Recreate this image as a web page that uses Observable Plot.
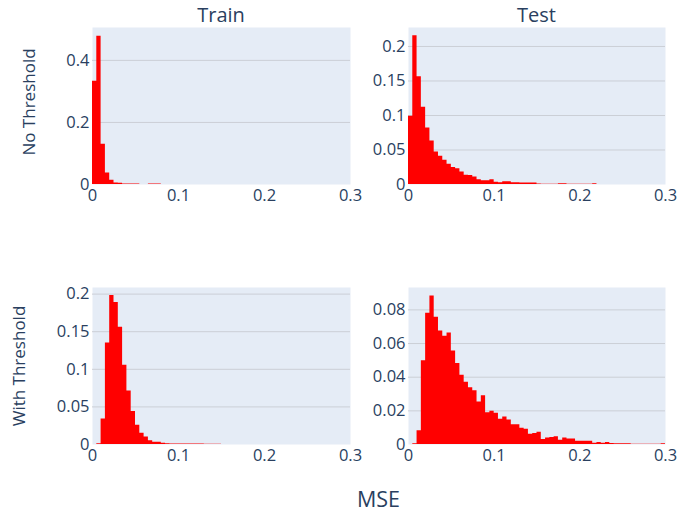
<!DOCTYPE html>
<html>
<head>
<meta charset="utf-8">
<script src="https://cdn.jsdelivr.net/npm/d3@7"></script>
<script src="https://cdn.jsdelivr.net/npm/@observablehq/plot@0.6"></script>
<style>
  html, body { margin: 0; padding: 0; background: #ffffff; }
  #chart { position: relative; width: 678px; height: 515px; overflow: hidden; }
  #chart svg { position: absolute; left: 0; top: 0; }
</style>
</head>
<body>
<div id="chart"></div>
<script>
// ---- data (probability per 0.005-wide MSE bin, bins start at 0) ----
const binWidth = 0.005;
const trainNoThreshold = [0.333, 0.478, 0.130, 0.037, 0.014, 0.005, 0.004, 0.002, 0.002, 0.002, 0.002, 0.0003, 0.0003, 0.0015, 0.0015, 0.0015];
const testNoThreshold = [0.099, 0.2155, 0.156, 0.112, 0.082, 0.063, 0.047, 0.041, 0.035, 0.0295,
  0.0246, 0.0227, 0.018, 0.0135, 0.013, 0.011, 0.0068, 0.0053, 0.0053, 0.0068,
  0.0034, 0.0024, 0.004, 0.004, 0.0024, 0.0024, 0.002, 0.002, 0.002, 0.002,
  0.0009, 0.0003, 0.0003, 0.0003, 0.0003, 0.0012, 0.0012, 0.0003, 0.0003, 0.0003,
  0.0003, 0.0003, 0.0003, 0.0012];
const trainWithThreshold = [0, 0.001, 0.034, 0.135, 0.198, 0.189, 0.156, 0.1055, 0.071, 0.044,
  0.0257, 0.015, 0.010, 0.0049, 0.0031, 0.0031, 0.0018, 0.0009, 0.0007, 0.0007,
  0.0007, 0.0007, 0.0007, 0.0007, 0.0007, 0.0007, 0.0004, 0.0002, 0.0004, 0.0004];
const testWithThreshold = [0, 0.0004, 0.0081, 0.0497, 0.078, 0.0883, 0.0756, 0.0675, 0.0644, 0.0663,
  0.0556, 0.0481, 0.0412, 0.037, 0.0337, 0.0319, 0.0252, 0.0289, 0.0188, 0.0198,
  0.0186, 0.015, 0.0164, 0.0145, 0.0117, 0.0117, 0.0097, 0.0091, 0.0061, 0.0065,
  0.0073, 0.003, 0.0038, 0.0042, 0.0046, 0.0026, 0.0038, 0.0032, 0.0032, 0.002,
  0.002, 0.002, 0.002, 0.0008, 0.0012, 0.0008, 0.0012, 0.0006, 0.0004, 0.0004,
  0.0004, 0.0004, 0.0001, 0.0001, 0.0001, 0.0001, 0.0001, 0.0001, 0.0001, 0.0004];

const xDomain = [0, 0.3];
const xTicks = [0, 0.1, 0.2, 0.3];
const yTicksTrainNo = [0, 0.2, 0.4];
const yTicksTestNo = [0, 0.05, 0.1, 0.15, 0.2];
const yTicksTrainWith = [0, 0.05, 0.1, 0.15, 0.2];
const yTicksTestWith = [0, 0.02, 0.04, 0.06, 0.08];
const yMaxTrainNo = 0.506;
const yMaxTestNo = 0.2275;
const yMaxTrainWith = 0.2088;
const yMaxTestWith = 0.0933;

const colTitles = ["Train", "Test"];
const rowTitles = ["No Threshold", "With Threshold"];
const xTitle = "MSE";

// ---- layout ----
const W = 678, H = 515;
const cols = [{left: 92, right: 350}, {left: 408, right: 665}];
const rows = [{top: 27, bottom: 184}, {top: 287, bottom: 444}];
const textColor = "#2a3f5f";
const fontFamily = "'Open Sans', 'DejaVu Sans', sans-serif";
const fmt = d3.format("~g");

function panel(values, yMax, yTicks, col, row) {
  // histogram bars drawn as one step-shaped area so adjacent bins have no seams
  const steps = values.map((v, i) => ({x: i * binWidth, y: v}));
  steps.push({x: values.length * binWidth, y: values[values.length - 1]});
  return Plot.plot({
    width: W, height: H,
    marginLeft: col.left, marginRight: W - col.right,
    marginTop: row.top, marginBottom: H - row.bottom,
    style: {fontFamily, fontSize: "16.5px", color: textColor, background: "transparent", overflow: "visible"},
    x: {domain: xDomain, ticks: xTicks, tickFormat: fmt, tickSize: 0, tickPadding: 5, label: null},
    y: {domain: [0, yMax], ticks: yTicks, tickFormat: fmt, tickSize: 0, tickPadding: 3, label: null},
    marks: [
      Plot.frame({fill: "#e5ecf6", stroke: "none"}),
      Plot.ruleY(yTicks.filter(t => t > 0), {stroke: "#cbcfd6", strokeWidth: 1}),
      Plot.areaY(steps, {x: "x", y: "y", curve: "step-after", fill: "#ff0000"})
    ]
  });
}

const chart = document.getElementById("chart");
chart.appendChild(panel(trainNoThreshold, yMaxTrainNo, yTicksTrainNo, cols[0], rows[0]));
chart.appendChild(panel(testNoThreshold, yMaxTestNo, yTicksTestNo, cols[1], rows[0]));
chart.appendChild(panel(trainWithThreshold, yMaxTrainWith, yTicksTrainWith, cols[0], rows[1]));
chart.appendChild(panel(testWithThreshold, yMaxTestWith, yTicksTestWith, cols[1], rows[1]));

// ---- titles overlay ----
const svg = d3.select(chart).append("svg")
  .attr("width", W).attr("height", H)
  .style("font-family", fontFamily).attr("fill", textColor);
colTitles.forEach((t, i) => {
  svg.append("text")
    .attr("x", (cols[i].left + cols[i].right) / 2).attr("y", 21.5)
    .attr("text-anchor", "middle").attr("font-size", 20).text(t);
});
const rowX = [35, 25];
const rowY = [102, 366];
rowTitles.forEach((t, i) => {
  svg.append("text")
    .attr("transform", `translate(${rowX[i]},${rowY[i]}) rotate(-90)`)
    .attr("text-anchor", "middle").attr("font-size", 17).text(t);
});
svg.append("text")
  .attr("x", (cols[0].left + cols[1].right) / 2).attr("y", 507)
  .attr("text-anchor", "middle").attr("font-size", 21.5).text(xTitle);
</script>
</body>
</html>
